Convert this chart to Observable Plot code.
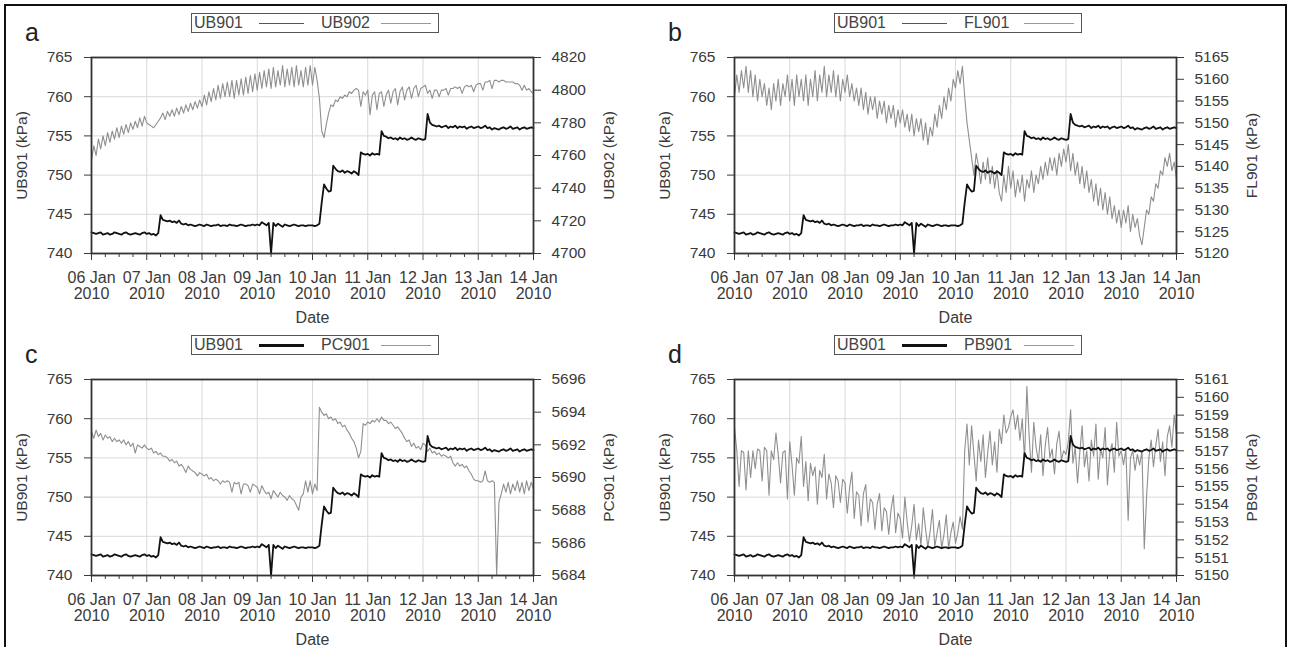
<!DOCTYPE html>
<html><head><meta charset="utf-8">
<script src="https://cdn.jsdelivr.net/npm/d3@7"></script>
<script src="https://cdn.jsdelivr.net/npm/@observablehq/plot@0.6"></script>
<style>
body{margin:0;background:#fff;font-family:"Liberation Sans",Arial,sans-serif;}
#fig{position:relative;width:1289px;height:647px;overflow:hidden;background:#fff;}
.border{position:absolute;left:4px;top:4px;width:1279px;height:700px;border:2px solid #111;}
.panel{position:absolute;}
.letter{position:absolute;font-size:25px;line-height:25px;color:#222;}
.legend{position:absolute;border:1px solid #555;height:18px;width:246px;font-size:16px;color:#444;}
.legend span{position:absolute;top:0px;line-height:18px;}
.legend i{position:absolute;top:9px;display:block;}
</style></head><body><div id="fig"><div class="border"></div></div><script>
// ---- data: hourly samples from 06 Jan 2010 00:00 UTC ----
const startDate = "2010-01-06";
const endDate = "2010-01-14";
const UB901 = [
742.7,742.6,742.5,742.6,742.7,742.4,742.5,742.6,742.4,742.5,742.7,742.6,742.5,742.4,742.6,742.7,742.5,742.4,742.5,742.6,742.5,742.4,742.6,742.7,
742.5,742.6,742.4,742.5,742.3,742.6,744.9,744.3,744.2,744.1,744.2,744.0,744.1,743.9,744.2,743.8,743.7,743.8,743.6,743.7,743.6,743.5,743.6,743.7,
743.6,743.5,743.7,743.6,743.5,743.6,743.6,743.7,743.5,743.6,743.6,743.5,743.7,743.6,743.6,743.5,743.6,743.7,743.6,743.5,743.6,743.6,743.7,743.6,
743.7,743.6,744.0,743.8,743.6,743.9,740.0,743.9,743.5,743.8,743.6,743.4,743.7,743.6,743.5,743.6,743.7,743.6,743.5,743.6,743.6,743.5,743.6,743.6,
743.6,743.5,743.6,743.8,746.5,748.8,748.3,747.9,748.0,751.2,750.8,750.5,750.4,750.6,750.3,750.5,750.4,750.2,750.5,750.3,750.0,752.9,752.7,752.6,
752.7,752.5,752.8,752.6,752.7,752.6,755.6,755.0,754.9,754.7,754.8,754.6,754.7,754.5,754.8,754.6,754.7,754.5,754.6,754.8,754.6,754.5,754.7,754.6,
754.5,754.6,757.8,756.7,756.4,756.3,756.2,756.3,756.1,756.2,756.3,756.0,756.2,756.1,756.3,756.0,756.2,756.1,756.2,755.9,756.1,756.2,756.0,756.1,
756.2,756.0,756.1,756.3,756.0,756.1,755.8,756.0,755.9,755.8,756.0,756.1,755.9,756.0,756.2,755.9,756.0,756.1,755.8,756.0,756.1,755.9,756.0,756.1,
756.0];
const UB902 = [
4757,4766,4760,4770,4764,4772,4766,4774,4768,4775,4770,4777,4771,4778,4773,4779,4774,4780,4776,4781,4777,4783,4778,4784,
4780,4779,4778,4777,4779,4781,4783,4786,4782,4787,4784,4788,4784,4789,4785,4790,4786,4791,4787,4792,4788,4793,4789,4794,
4790,4797,4791,4799,4793,4801,4794,4803,4795,4804,4796,4805,4796,4806,4795,4806,4797,4807,4797,4808,4798,4809,4799,4810,
4800,4811,4801,4812,4802,4813,4801,4814,4802,4812,4803,4815,4802,4813,4803,4814,4802,4815,4803,4812,4802,4814,4803,4815,
4803,4814,4806,4795,4775,4771,4779,4786,4791,4790,4794,4793,4796,4795,4797,4796,4799,4798,4800,4801,4800,4790,4799,4797,
4800,4785,4797,4799,4788,4798,4799,4790,4797,4800,4792,4799,4801,4791,4799,4802,4794,4800,4802,4795,4801,4803,4796,4801,
4802,4803,4798,4800,4795,4800,4800,4796,4800,4800,4801,4797,4801,4801,4802,4801,4802,4798,4802,4803,4802,4803,4799,4803,
4804,4804,4800,4805,4805,4806,4801,4806,4806,4805,4806,4806,4805,4805,4805,4805,4804,4804,4803,4800,4803,4800,4801,4799,
4798];
const FL901 = [
5156,5161,5157,5162,5158,5163,5157,5162,5156,5161,5155,5160,5156,5159,5154,5158,5153,5159,5155,5160,5154,5159,5156,5161,
5155,5160,5154,5161,5156,5160,5155,5161,5154,5160,5156,5162,5155,5161,5157,5163,5156,5161,5157,5162,5156,5161,5155,5160,
5157,5161,5156,5159,5155,5158,5154,5158,5153,5157,5152,5156,5153,5156,5151,5155,5152,5155,5150,5154,5151,5154,5149,5153,
5150,5153,5149,5152,5148,5152,5147,5151,5148,5151,5146,5150,5145,5149,5147,5152,5149,5154,5151,5156,5153,5158,5155,5160,
5158,5162,5159,5163,5156,5150,5146,5142,5138,5143,5140,5136,5141,5137,5142,5136,5140,5135,5139,5134,5132,5138,5134,5140,
5135,5139,5133,5137,5134,5138,5132,5137,5135,5139,5134,5138,5136,5140,5137,5141,5138,5142,5139,5142,5138,5143,5140,5144,
5141,5145,5139,5143,5138,5141,5136,5140,5135,5139,5134,5137,5132,5136,5131,5135,5130,5134,5129,5133,5128,5131,5127,5130,
5126,5130,5127,5131,5125,5129,5126,5128,5124,5122,5126,5130,5129,5133,5132,5136,5135,5139,5138,5142,5140,5143,5139,5141,
5137];
const PC901 = [
5692.8,5692.4,5692.9,5692.5,5692.7,5692.3,5692.6,5692.4,5692.5,5692.2,5692.4,5692.2,5692.3,5692.1,5692.3,5692.0,5692.2,5691.9,5692.1,5691.5,5692.0,5691.9,5691.8,5692.0,
5691.8,5691.7,5691.8,5691.5,5691.6,5691.4,5691.5,5691.3,5691.3,5691.2,5691.0,5691.1,5690.9,5691.0,5690.7,5690.8,5690.6,5690.3,5690.7,5690.5,5690.4,5690.3,5690.1,5690.3,
5690.2,5690.1,5690.2,5689.9,5690.0,5689.8,5689.9,5689.8,5689.6,5689.8,5689.7,5689.8,5689.7,5689.1,5689.7,5689.6,5689.7,5689.0,5689.6,5689.6,5689.5,5689.1,5689.6,5689.5,
5689.4,5689.0,5689.5,5689.2,5689.0,5689.1,5688.7,5689.2,5689.0,5688.8,5689.1,5688.9,5688.8,5688.6,5688.9,5688.7,5688.6,5688.3,5688.0,5688.8,5689.0,5689.8,5689.1,5689.8,
5689.0,5689.6,5689.2,5694.3,5694.0,5693.8,5693.9,5693.6,5693.7,5693.5,5693.6,5693.3,5693.4,5693.1,5693.2,5692.9,5692.7,5692.4,5692.2,5691.8,5691.2,5691.6,5693.3,5693.2,
5693.4,5693.3,5693.5,5693.4,5693.6,5693.4,5693.7,5693.5,5693.5,5693.3,5693.4,5693.2,5693.0,5693.1,5692.9,5692.7,5692.4,5692.2,5692.3,5691.9,5692.1,5691.8,5691.9,5691.7,
5692.1,5692.0,5691.6,5691.8,5691.5,5691.6,5691.4,5691.5,5691.3,5691.4,5691.3,5691.2,5691.3,5690.9,5690.7,5690.9,5690.7,5690.8,5690.6,5690.7,5690.4,5690.2,5689.9,5689.8,
5689.8,5689.7,5689.8,5690.4,5689.8,5689.7,5689.8,5689.7,5684.0,5688.5,5689.0,5689.6,5689.1,5689.7,5689.0,5689.6,5689.2,5689.8,5689.1,5689.7,5689.0,5689.8,5689.2,5689.7,
5689.3];
const PB901 = [
5158.3,5157.0,5155.0,5157.0,5156.9,5154.8,5157.0,5155.5,5157.0,5156.0,5157.1,5157.0,5155.3,5157.2,5157.0,5154.5,5157.0,5156.5,5158.0,5156.8,5155.2,5156.9,5157.0,5154.3,
5157.5,5156.2,5154.5,5156.6,5156.3,5157.8,5155.0,5156.4,5154.2,5156.3,5155.6,5156.1,5154.0,5155.9,5155.5,5156.8,5154.3,5155.7,5155.2,5153.8,5155.6,5155.3,5154.1,5155.4,
5155.2,5153.5,5154.9,5155.8,5153.2,5154.7,5154.5,5152.8,5154.6,5155.1,5153.0,5154.3,5154.1,5152.6,5154.0,5154.6,5152.5,5153.8,5153.6,5152.3,5153.7,5154.5,5152.4,5153.5,
5153.2,5152.1,5154.4,5153.0,5151.9,5152.8,5154.0,5152.0,5152.9,5151.7,5153.8,5152.6,5151.6,5152.5,5153.7,5151.6,5152.4,5153.1,5151.5,5152.3,5153.4,5151.5,5152.4,5153.0,
5151.8,5152.4,5153.3,5152.6,5157.0,5158.5,5156.2,5158.4,5156.8,5155.3,5157.6,5156.4,5157.9,5155.5,5156.9,5158.1,5156.2,5157.5,5155.8,5158.2,5157.4,5159.0,5158.0,5158.3,
5158.9,5159.3,5158.2,5159.0,5157.6,5158.8,5156.5,5160.6,5157.8,5155.8,5158.6,5157.2,5156.4,5157.9,5155.6,5157.3,5158.3,5156.6,5157.1,5155.7,5157.4,5158.1,5156.5,5157.0,
5156.8,5157.5,5159.3,5156.3,5157.2,5155.2,5156.9,5158.4,5156.1,5157.0,5155.3,5157.6,5156.7,5158.5,5155.4,5157.1,5156.6,5158.3,5155.1,5156.9,5157.4,5155.8,5158.6,5156.7,
5157.0,5156.2,5157.1,5153.1,5156.6,5157.0,5155.9,5156.8,5156.2,5157.0,5151.5,5154.4,5156.6,5157.6,5156.1,5157.3,5158.2,5156.4,5157.5,5155.6,5157.8,5158.4,5157.2,5159.0,
5157.9];
// ---- axes ----
const leftDomain = [740, 765];
const leftTicks = [740, 745, 750, 755, 760, 765];
const rightDomainA = [4700, 4820], rightTicksA = [4700, 4720, 4740, 4760, 4780, 4800, 4820];
const rightDomainB = [5120, 5165], rightTicksB = [5120, 5125, 5130, 5135, 5140, 5145, 5150, 5155, 5160, 5165];
const rightDomainC = [5684, 5696], rightTicksC = [5684, 5686, 5688, 5690, 5692, 5694, 5696];
const rightDomainD = [5150, 5161], rightTicksD = [5150, 5151, 5152, 5153, 5154, 5155, 5156, 5157, 5158, 5159, 5160, 5161];
const leftName = "UB901";
const panelLetters = ["a", "b", "c", "d"];
const rightNames = ["UB902", "FL901", "PC901", "PB901"];

const t0 = new Date(startDate + "T00:00Z"), t1 = new Date(endDate + "T00:00Z");
const times = UB901.map((_, i) => d3.utcHour.offset(t0, i));
const dayTicks = d3.utcDay.range(t0, d3.utcDay.offset(t1, 1));
const minorTicks = d3.utcHour.every(6).range(t0, t1).filter(d => d.getUTCHours() !== 0);
const fmtDay = d3.utcFormat("%d %b"), fmtYear = d3.utcFormat("%Y");

const FONT = "'Liberation Sans', Arial, sans-serif";
const fig = document.getElementById("fig");

const specs = [
  {series: UB902, dom: rightDomainA, ticks: rightTicksA, left: 0, top: 0, thick: false},
  {series: FL901, dom: rightDomainB, ticks: rightTicksB, left: 643, top: 0, thick: false},
  {series: PC901, dom: rightDomainC, ticks: rightTicksC, left: 0, top: 322, thick: true},
  {series: PB901, dom: rightDomainD, ticks: rightTicksD, left: 643, top: 322, thick: true}
];

specs.forEach((s, k) => {
  const [r0, r1] = s.dom;
  const toLeft = v => leftDomain[0] + (v - r0) / (r1 - r0) * (leftDomain[1] - leftDomain[0]);
  const fromLeft = y => r0 + (y - leftDomain[0]) / (leftDomain[1] - leftDomain[0]) * (r1 - r0);
  const rows = times.map((t, i) => ({t, u: UB901[i], r: toLeft(s.series[i])}));

  const chart = Plot.plot({
    width: 640, height: 290,
    marginLeft: 91, marginRight: 107, marginTop: 17, marginBottom: 77,
    style: {fontFamily: FONT, fontSize: "15px", color: "#3a3a3a", background: "transparent", overflow: "visible"},
    x: {type: "utc", domain: [t0, t1], label: null},
    y: {domain: leftDomain, label: null},
    marks: [
      Plot.gridX(dayTicks, {stroke: "#d9d9d9", strokeOpacity: 1}),
      Plot.gridY(leftTicks, {stroke: "#d9d9d9", strokeOpacity: 1}),
      Plot.lineY(rows, {x: "t", y: "r", stroke: "#8f8f8f", strokeWidth: 1.1}),
      Plot.lineY(rows, {x: "t", y: "u", stroke: "#111", strokeWidth: 1.8}),
      Plot.axisY(leftTicks, {anchor: "left", tickSize: 7, tickPadding: 12, fontSize: 15.5, label: leftName + " (kPa)", labelAnchor: "center", labelArrow: "none", labelOffset: 76}),
      Plot.axisY(s.ticks.map(toLeft), {anchor: "right", tickSize: 7, tickPadding: 11, fontSize: 15.5, tickFormat: d => String(Math.round(fromLeft(d))), label: rightNames[k] + " (kPa)", labelAnchor: "center", labelArrow: "none", labelOffset: 80}),
      Plot.axisX(minorTicks, {anchor: "bottom", tickSize: 4, tickFormat: () => "", label: null}),
      Plot.axisX(dayTicks, {anchor: "bottom", tickSize: 7, tickPadding: 11, fontSize: 16, tickFormat: d => fmtDay(d) + "\n" + fmtYear(d), label: "Date", labelAnchor: "center", labelArrow: "none", labelOffset: 69}),
      Plot.frame({stroke: "#333", strokeWidth: 1.8})
    ]
  });
  const wrap = document.createElement("div");
  wrap.className = "panel";
  wrap.style.left = s.left + "px";
  wrap.style.top = (s.top + 40) + "px";
  wrap.appendChild(chart);
  fig.appendChild(wrap);

  const letter = document.createElement("div");
  letter.className = "letter";
  letter.textContent = panelLetters[k];
  letter.style.left = (s.left + 25) + "px";
  letter.style.top = (s.top + 20) + "px";
  fig.appendChild(letter);

  const lg = document.createElement("div");
  lg.className = "legend";
  lg.style.left = (s.left + 191) + "px";
  lg.style.top = (s.top + 13) + "px";
  const sw1 = s.thick ? "height:3px;background:#111;margin-top:-1px" : "height:1px;background:#555";
  lg.innerHTML =
    `<span style="left:2px">${leftName}</span>` +
    `<i style="left:67px;width:45px;${sw1}"></i>` +
    `<span style="left:129px">${rightNames[k]}</span>` +
    `<i style="left:189px;width:50px;height:1px;background:#999"></i>`;
  fig.appendChild(lg);
});
</script></body></html>
